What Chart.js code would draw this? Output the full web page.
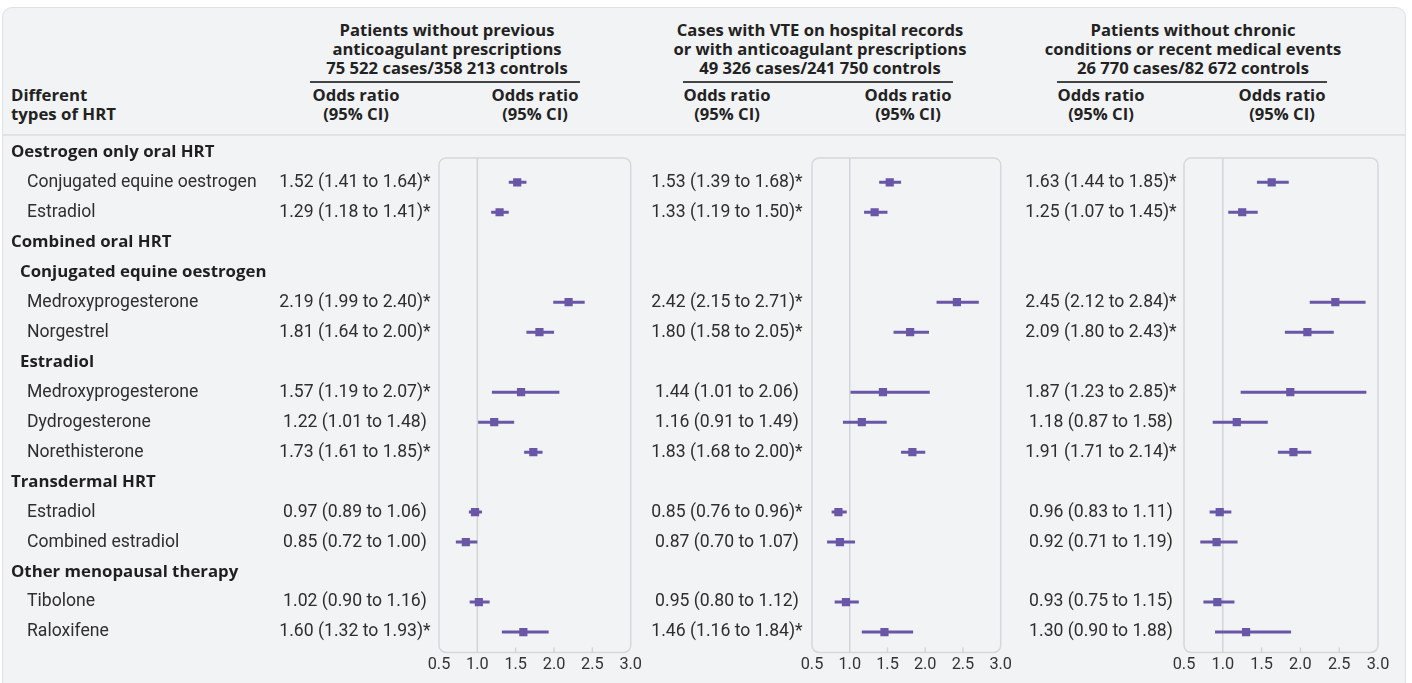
<!DOCTYPE html>
<html>
<head>
<meta charset="utf-8">
<script src="https://cdn.jsdelivr.net/npm/chart.js@4"></script>
<style>
  html, body { margin: 0; padding: 0; background: #fff; }
  body { width: 1412px; height: 683px; position: relative; overflow: hidden; font-family: Roboto, "Noto Sans", sans-serif; color: #2b2b2b; }
  .card { position: absolute; left: 2px; top: 7px; width: 1402px; height: 700px; background: #f2f3f5; border: 1px solid #dfe1e5; border-radius: 10px; }
  .sep { position: absolute; left: 3px; top: 134px; width: 1402px; height: 2px; background: #e0e2e6; }
  .hd { position: absolute; transform: translate(-50%, -50%); white-space: nowrap; font-family: "Open Sans", sans-serif; font-weight: 700; font-size: 16.6px; text-align: center; color: #222; }
  .uline { position: absolute; height: 1.5px; background: #444; top: 81px; }
  .lab { position: absolute; transform: translateY(-50%); white-space: nowrap; font-family: "Open Sans", sans-serif; font-weight: 700; font-size: 16.8px; color: #222; }
  .wrap { position: absolute; top: 0; height: 683px; }
</style>
</head>
<body>
<div class="card"></div>
<div class="sep"></div>
<div id="head"></div>
<div class="wrap" style="left:0;width:645px"><canvas id="c1"></canvas></div>
<div class="wrap" style="left:645px;width:370px"><canvas id="c2"></canvas></div>
<div class="wrap" style="left:1015px;width:397px"><canvas id="c3"></canvas></div>
<script>
const rowLabels = ['Oestrogen only oral HRT', 'Conjugated equine oestrogen', 'Estradiol',
  'Combined oral HRT', 'Conjugated equine oestrogen', 'Medroxyprogesterone', 'Norgestrel',
  'Estradiol', 'Medroxyprogesterone', 'Dydrogesterone', 'Norethisterone',
  'Transdermal HRT', 'Estradiol', 'Combined estradiol',
  'Other menopausal therapy', 'Tibolone', 'Raloxifene'];
const rowLevel = [0, 2, 2, 0, 1, 2, 2, 1, 2, 2, 2, 0, 2, 2, 0, 2, 2];
const dataRows = [1, 2, 5, 6, 8, 9, 10, 12, 13, 15, 16];

const groupTitles = [
  ['Patients without previous', 'anticoagulant prescriptions', '75 522 cases/358 213 controls'],
  ['Cases with VTE on hospital records', 'or with anticoagulant prescriptions', '49 326 cases/241 750 controls'],
  ['Patients without chronic', 'conditions or recent medical events', '26 770 cases/82 672 controls']
];

// panel 1
const orA  = [1.52, 1.29, 2.19, 1.81, 1.57, 1.22, 1.73, 0.97, 0.85, 1.02, 1.60];
const loA  = [1.41, 1.18, 1.99, 1.64, 1.19, 1.01, 1.61, 0.89, 0.72, 0.90, 1.32];
const hiA  = [1.64, 1.41, 2.40, 2.00, 2.07, 1.48, 1.85, 1.06, 1.00, 1.16, 1.93];
const sigA = [1, 1, 1, 1, 1, 0, 1, 0, 0, 0, 1];
// panel 2
const orB  = [1.53, 1.33, 2.42, 1.80, 1.44, 1.16, 1.83, 0.85, 0.87, 0.95, 1.46];
const loB  = [1.39, 1.19, 2.15, 1.58, 1.01, 0.91, 1.68, 0.76, 0.70, 0.80, 1.16];
const hiB  = [1.68, 1.50, 2.71, 2.05, 2.06, 1.49, 2.00, 0.96, 1.07, 1.12, 1.84];
const sigB = [1, 1, 1, 1, 0, 0, 1, 1, 0, 0, 1];
// panel 3
const orC  = [1.63, 1.25, 2.45, 2.09, 1.87, 1.18, 1.91, 0.96, 0.92, 0.93, 1.30];
const loC  = [1.44, 1.07, 2.12, 1.80, 1.23, 0.87, 1.71, 0.83, 0.71, 0.75, 0.90];
const hiC  = [1.85, 1.45, 2.84, 2.43, 2.85, 1.58, 2.14, 1.11, 1.19, 1.15, 1.88];
const sigC = [1, 1, 1, 1, 1, 0, 1, 0, 0, 0, 0];

const xMin = 0.5, xMax = 3.0, xStep = 0.5;

const purple = '#6a56a6';
const textFont = '17.6px Roboto';
const boldFont = '700 16.8px "Open Sans"';

// header (html text)
const head = document.getElementById('head');
function addHd(txt, x, y, cls) {
  const d = document.createElement('div');
  d.className = cls || 'hd';
  d.textContent = txt;
  d.style.left = x + 'px';
  d.style.top = y + 'px';
  head.appendChild(d);
}
const titleX = [447, 820, 1193];
const colX = [[356, 535], [727, 908], [1101, 1282]];
const ulX = [[310, 580], [683, 953], [1057, 1327]];
groupTitles.forEach((lines, g) => {
  lines.forEach((l, k) => addHd(l, titleX[g], 28.5 + k * 19));
  const u = document.createElement('div');
  u.className = 'uline';
  u.style.left = ulX[g][0] + 'px';
  u.style.width = (ulX[g][1] - ulX[g][0]) + 'px';
  head.appendChild(u);
  colX[g].forEach(cx => {
    addHd('Odds ratio', cx, 94);
    addHd('(95% CI)', cx, 113);
  });
});
addHd('Different', 11, 94, 'lab');
addHd('types of HRT', 11, 113, 'lab');

const fmt = v => v.toFixed(2);

const forestDecor = {
  id: 'forestDecor',
  beforeDatasetsDraw(chart, args, opts) {
    const { ctx, chartArea: a, scales: { x } } = chart;
    ctx.save();
    // box
    ctx.strokeStyle = '#d5d8dd';
    ctx.lineWidth = 1.5;
    ctx.beginPath();
    ctx.roundRect(a.left, a.top, a.right - a.left, a.bottom - a.top, 7);
    ctx.stroke();
    // line of no effect
    const x1 = x.getPixelForValue(1);
    ctx.strokeStyle = '#d2d5da';
    ctx.beginPath();
    ctx.moveTo(x1, a.top);
    ctx.lineTo(x1, a.bottom);
    ctx.stroke();
    // small inner ticks
    x.ticks.forEach(t => {
      if (t.value <= 1 || t.value >= xMax) return;
      const px = x.getPixelForValue(t.value);
      ctx.beginPath();
      ctx.moveTo(px, a.bottom);
      ctx.lineTo(px, a.bottom - 5);
      ctx.stroke();
    });
    ctx.restore();
  },
  afterDraw(chart, args, opts) {
    const { ctx, scales: { y } } = chart;
    ctx.save();
    ctx.textBaseline = 'middle';
    ctx.fillStyle = '#2e2e2e';
    ctx.font = textFont;
    ctx.textAlign = 'center';
    dataRows.forEach((r, i) => {
      const s = fmt(opts.or[i]) + ' (' + fmt(opts.lo[i]) + ' to ' + fmt(opts.hi[i]) + ')' + (opts.sig[i] ? '*' : '');
      ctx.fillText(s, opts.textX, y.getPixelForValue(r));
    });
    if (opts.labels) {
      ctx.textAlign = 'left';
      rowLabels.forEach((l, r) => {
        const lv = rowLevel[r];
        ctx.font = lv < 2 ? boldFont : textFont;
        ctx.fillStyle = lv < 2 ? '#1f1f1f' : '#2e2e2e';
        ctx.fillText(l, lv === 0 ? 11 : (lv === 1 ? 20 : 27), y.getPixelForValue(r));
      });
    }
    ctx.restore();
  }
};

function makeForest(id, or, lo, hi, sig, padLeft, padRight, textX, labels) {
  const ciSets = dataRows.map((r, i) => ({
    data: [{ x: lo[i], y: r }, { x: hi[i], y: r }],
    showLine: true,
    borderColor: purple,
    borderWidth: 3,
    pointRadius: 0,
    borderCapStyle: 'butt'
  }));
  const orSet = {
    data: dataRows.map((r, i) => ({ x: or[i], y: r })),
    pointStyle: 'rect',
    pointRadius: 5.8,
    backgroundColor: purple,
    borderWidth: 0
  };
  return new Chart(document.getElementById(id), {
    type: 'scatter',
    data: { datasets: [orSet].concat(ciSets) },
    options: {
      responsive: true,
      maintainAspectRatio: false,
      animation: false,
      events: [],
      layout: { padding: { left: padLeft, right: padRight, top: 158, bottom: 5 } },
      scales: {
        x: {
          type: 'linear', min: xMin, max: xMax,
          border: { display: false },
          grid: { display: false, drawTicks: false },
          ticks: {
            stepSize: xStep, padding: 3, color: '#333', maxRotation: 0, autoSkip: false,
            font: { family: 'Roboto', size: 16.3 },
            callback: v => v.toFixed(1)
          }
        },
        y: { type: 'linear', reverse: true, min: 0.19, max: 16.68, display: false }
      },
      plugins: {
        legend: { display: false },
        tooltip: { enabled: false },
        forestDecor: { or, lo, hi, sig, textX, labels }
      }
    },
    plugins: [forestDecor]
  });
}

makeForest('c1', orA, loA, hiA, sigA, 439, 645 - 633, 355, true);
makeForest('c2', orB, loB, hiB, sigB, 812 - 645, 1015 - 1006, 727 - 645, false);
makeForest('c3', orC, loC, hiC, sigC, 1184 - 1015, 1412 - 1378, 1101 - 1015, false);
</script>
</body>
</html>
